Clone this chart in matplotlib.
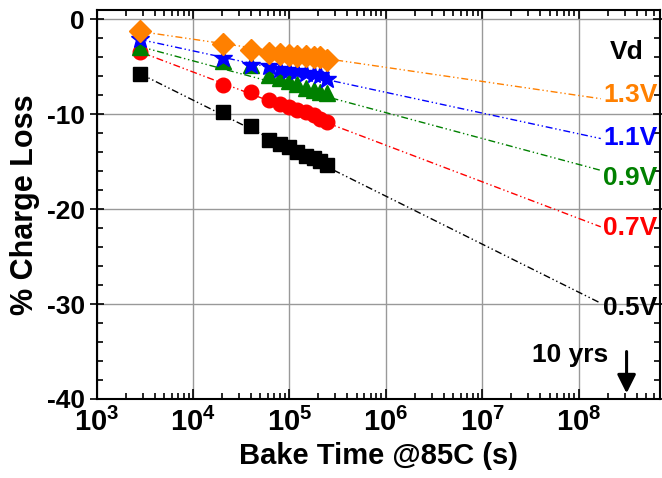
import numpy as np
import matplotlib
matplotlib.use('Agg')
import matplotlib.pyplot as plt
from matplotlib.ticker import FuncFormatter, LogLocator, MultipleLocator

plt.rcParams['font.family'] = ['Liberation Sans', 'DejaVu Sans']
plt.rcParams['font.weight'] = 'bold'
plt.rcParams['mathtext.fontset'] = 'custom'
plt.rcParams['mathtext.bf'] = 'Liberation Sans:bold'
plt.rcParams['mathtext.rm'] = 'Liberation Sans:bold'
plt.rcParams['axes.unicode_minus'] = False

# bake times (s), same for every Vd
bake_time = [2.8e3, 2.07e4, 4.0e4, 6.1e4, 8.0e4, 9.8e4, 1.2e5, 1.5e5, 1.78e5, 2.1e5, 2.45e5]

# % charge loss per drain voltage
loss_05 = [-5.7, -9.75, -11.25, -12.7, -13.15, -13.4, -13.95, -14.4, -14.65, -14.9, -15.3]
loss_07 = [-3.4, -6.95, -7.65, -8.5, -8.9, -9.2, -9.5, -9.75, -10.1, -10.45, -10.8]
loss_09 = [-2.85, -4.4, -4.8, -5.9, -6.2, -6.5, -6.8, -7.2, -7.4, -7.6, -7.75]
loss_11 = [-2.1, -4.1, -4.8, -4.95, -5.2, -5.3, -5.4, -5.65, -5.7, -5.9, -6.3]
loss_13 = [-1.26, -2.56, -3.19, -3.5, -3.6, -3.7, -3.8, -3.86, -3.96, -4.0, -4.25]

# extrapolation lines end here
fit_end_time = 1.7e8
fit_end = [-29.9, -21.85, -15.9, -12.55, -8.35]

vd_labels = ['0.5V', '0.7V', '0.9V', '1.1V', '1.3V']
label_y = [-30.4, -22.0, -16.7, -12.5, -7.95]
ten_years = 3.15e8

series = [loss_05, loss_07, loss_09, loss_11, loss_13]
colors = ['black', '#ff0000', '#008000', '#0000ff', '#ff8000']
markers = ['s', 'o', '^', '*', 'D']
msizes = [9.5, 10.5, 11, 14, 11]

fig = plt.figure(figsize=(6.62, 4.78), dpi=100)
ax = fig.add_axes([96.6 / 662, 1 - 399 / 478, (660 - 96.6) / 662, (399 - 10) / 478])

for i in range(len(series)):
    ys = series[i]
    ax.plot([bake_time[0], fit_end_time], [ys[0], fit_end[i]], color=colors[i],
            lw=1, linestyle=(0, (5, 2, 1, 2, 1, 2)), zorder=2)
    ax.plot(bake_time, ys, linestyle='none', marker=markers[i], ms=msizes[i],
            color=colors[i], mec=colors[i], zorder=3)
    ax.text(1.8e8, label_y[i], vd_labels[i], color=colors[i], fontsize=19,
            fontweight='bold', ha='left', va='center')

ax.text(2.1e8, -3.4, 'Vd', color='black', fontsize=19, fontweight='bold',
        ha='left', va='center')
ax.text(8.2e7, -35.4, '10 yrs', fontsize=19, fontweight='bold', ha='center', va='center')
ax.annotate('', xy=(ten_years, -39.4), xytext=(ten_years, -35.0),
            arrowprops=dict(arrowstyle='-|>', lw=2.2, color='black', mutation_scale=28,
                            shrinkA=0, shrinkB=0))

ax.set_xscale('log')
ax.set_xlim(1e3, 7e8)
ax.set_ylim(-40, 1)
ax.xaxis.set_major_locator(LogLocator(base=10, numticks=10))
ax.xaxis.set_minor_locator(LogLocator(base=10, subs=np.arange(2, 10), numticks=20))
ax.xaxis.set_major_formatter(FuncFormatter(lambda v, p: r'$\mathbf{10^{%d}}$' % round(np.log10(v))))
ax.yaxis.set_major_locator(MultipleLocator(10))
ax.yaxis.set_minor_locator(MultipleLocator(2))

ax.grid(True, which='major', color='#999999', lw=1)
ax.set_axisbelow(True)
for s in ax.spines.values():
    s.set_linewidth(1.5)

ax.tick_params(axis='x', which='both', direction='in', top=True, width=1.2, labelsize=21, pad=6)
ax.tick_params(axis='x', which='major', length=7)
ax.tick_params(axis='x', which='minor', length=4)
ax.tick_params(axis='y', which='major', direction='inout', length=10, width=1.2, right=True,
               labelsize=19)
ax.tick_params(axis='y', which='minor', direction='in', length=4, width=1.2, right=True)

ax.set_xlabel('Bake Time @85C (s)', fontsize=21, fontweight='bold', labelpad=4)
ax.set_ylabel('% Charge Loss', fontsize=22, fontweight='bold', labelpad=5)

fig.savefig('out.png', dpi=100)
